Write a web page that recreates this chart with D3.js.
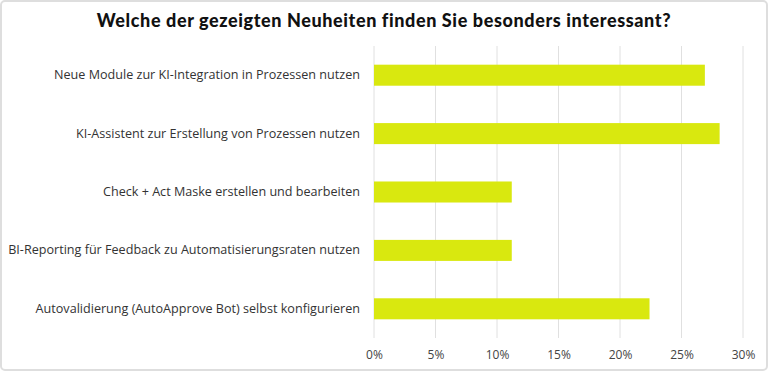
<html>
<script src="https://d3js.org/d3.v7.min.js"></script>
<body style="margin:0">
<svg width="768" height="371"></svg>
<script>
const categories = [
  "Neue Module zur KI-Integration in Prozessen nutzen",
  "KI-Assistent zur Erstellung von Prozessen nutzen",
  "Check + Act Maske erstellen und bearbeiten",
  "BI-Reporting für Feedback zu Automatisierungsraten nutzen",
  "Autovalidierung (AutoApprove Bot) selbst konfigurieren"
];
const values = [26.9, 28.1, 11.2, 11.2, 22.4];
const ticks = [0, 5, 10, 15, 20, 25, 30];
const title = "Welche der gezeigten Neuheiten finden Sie besonders interessant?";

const svg = d3.select("svg");
svg.append("rect").attr("x", 1).attr("y", 1).attr("width", 766).attr("height", 369)
  .attr("rx", 4).attr("fill", "#fff").attr("stroke", "#dedede").attr("stroke-width", 2);

svg.append("text").attr("x", 384).attr("y", 27).attr("text-anchor", "middle")
  .style("font-family", "Lato").style("font-weight", "900").style("font-size", "18px")
  .style("letter-spacing", "0.6px")
  .attr("fill", "#111").text(title);

var x = d3.scaleLinear().domain([0, 30]).range([374, 743]);
var y = d3.scaleBand().domain(categories).range([46, 338]).paddingInner(0.64).paddingOuter(0.32);

// grid
svg.append("g").selectAll("line").data(ticks).join("line")
  .attr("x1", d => x(d)).attr("x2", d => x(d)).attr("y1", 46).attr("y2", 338)
  .attr("stroke", "#e0e0e0").attr("stroke-width", 1);

svg.append("g").selectAll("rect").data(values).join("rect")
  .attr("x", x(0)).attr("y", (d, i) => y(categories[i]))
  .attr("width", d => x(d) - x(0)).attr("height", y.bandwidth())
  .attr("fill", "#d9e80f");

var xa = svg.append("g").attr("transform", "translate(0,338)")
  .call(d3.axisBottom(x).tickValues(ticks).tickFormat(d => d + "%").tickSize(0).tickPadding(12));
xa.select(".domain").remove();
xa.selectAll("text").style("font-family", "Open Sans").style("font-size", "12px").attr("fill", "#444");

var ya = svg.append("g").attr("transform", "translate(374,0)")
  .call(d3.axisLeft(y).tickSize(0).tickPadding(14));
ya.select(".domain").remove();
ya.selectAll("text").style("font-family", "Open Sans").style("font-size", "12.6px").attr("fill", "#333");
</script>
</body>
</html>
